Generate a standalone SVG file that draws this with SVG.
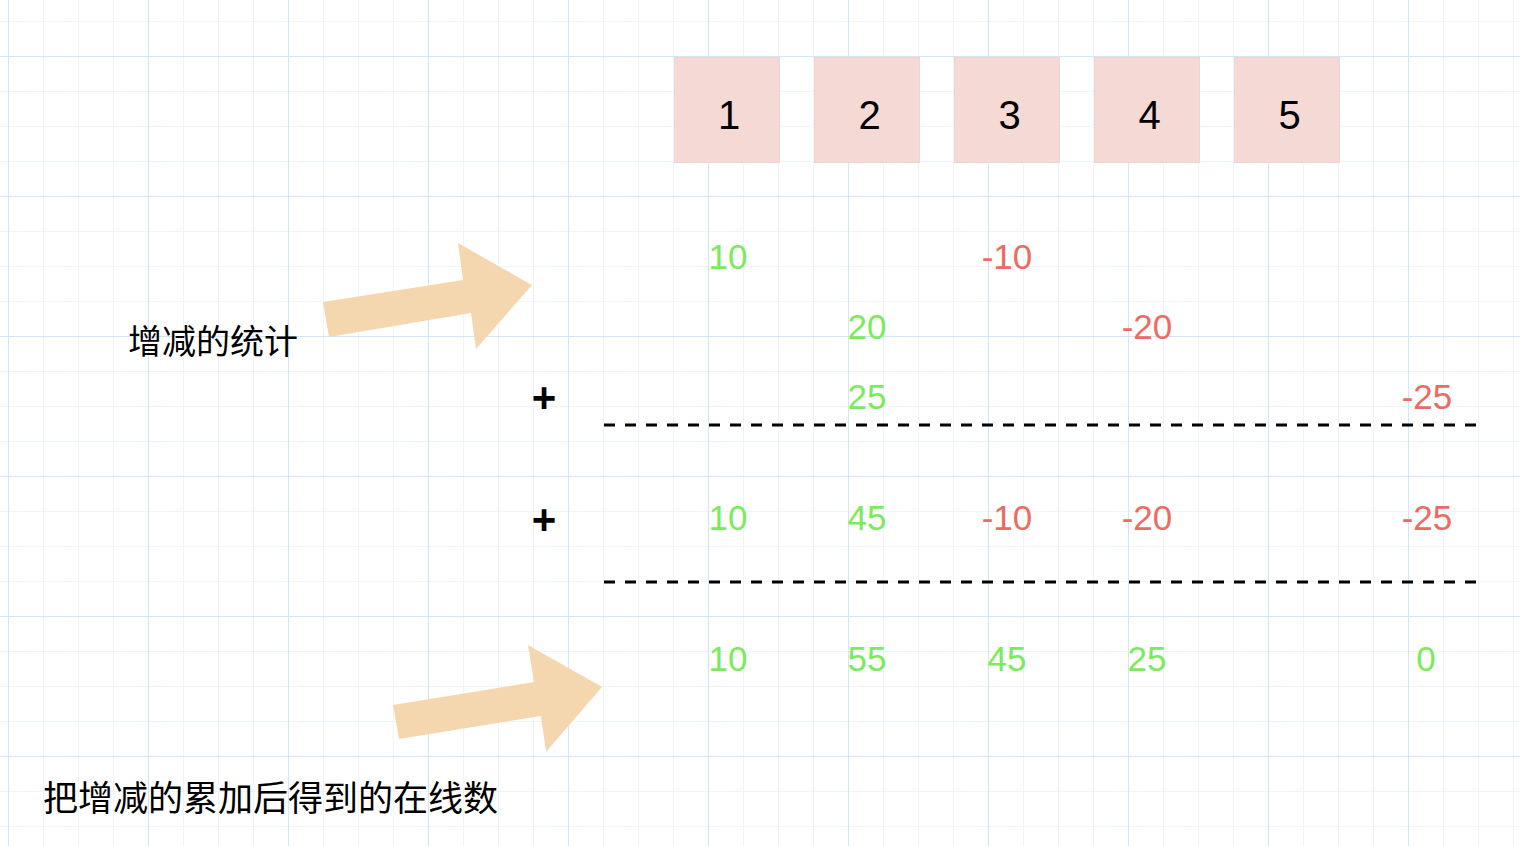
<svg xmlns="http://www.w3.org/2000/svg" width="1520" height="846" viewBox="0 0 1520 846">
<style>
.box{fill:#f5d9d5;stroke:#f3d3cf;stroke-width:1}
.num{font-family:"Liberation Sans",Arial,sans-serif;font-size:35px;text-anchor:middle}
.lbl{font-family:"Liberation Sans",Arial,sans-serif;font-size:40px;text-anchor:middle;fill:#000}
.plus{font-family:"Liberation Sans",Arial,sans-serif;font-size:42px;font-weight:bold;text-anchor:middle;fill:#000}
.g{fill:#7aeb5c}
.r{fill:#ec6b63}
.cn{font-family:"Noto Sans CJK SC","Noto Sans CJK TC",sans-serif;fill:#000}
.arrow{fill:#f5d7af}
.dash{stroke:#000;stroke-width:3;stroke-dasharray:11 10;fill:none}
</style>
<defs>
<pattern id="minor" x="8" y="21" width="35" height="35" patternUnits="userSpaceOnUse">
<path d="M0 0.5H35M0.5 0V35" stroke="#eef4fc" stroke-width="1" fill="none"/>
</pattern>
<pattern id="major" x="8" y="56" width="140" height="140" patternUnits="userSpaceOnUse">
<path d="M0 0.5H140M0.5 0V140" stroke="#d3e5f8" stroke-width="1" fill="none"/>
</pattern>
</defs>
<rect x="0" y="0" width="1520" height="846" fill="#ffffff"/>
<rect x="0" y="0" width="1520" height="846" fill="url(#minor)"/>
<rect x="0" y="0" width="1520" height="846" fill="url(#major)"/>

<g id="box1"><rect class="box" x="674.5" y="57.5" width="105" height="105"/><text class="lbl" x="729" y="129">1</text></g>
<g id="box2"><rect class="box" x="814.5" y="57.5" width="105" height="105"/><text class="lbl" x="869.5" y="129">2</text></g>
<g id="box3"><rect class="box" x="954.5" y="57.5" width="105" height="105"/><text class="lbl" x="1009.5" y="129">3</text></g>
<g id="box4"><rect class="box" x="1094.5" y="57.5" width="105" height="105"/><text class="lbl" x="1149.5" y="129">4</text></g>
<g id="box5"><rect class="box" x="1234.5" y="57.5" width="105" height="105"/><text class="lbl" x="1289.5" y="129">5</text></g>

<g id="arrow1"><polygon class="arrow" points="323,302 463,280 458,243 532,285 476,349 471,313 329,337"/></g>
<g id="arrow2"><polygon class="arrow" points="393,705 534,682 528,645 602,687 546,752 541,716 399,739"/></g>

<g id="label-stats"><text class="cn" x="128" y="354" font-size="34">增减的统计</text></g>
<g id="label-sum"><text class="cn" x="43" y="811" font-size="35">把增减的累加后得到的在线数</text></g>

<g id="connectors">
<line class="dash" x1="604" y1="425" x2="1478" y2="425"/>
<line class="dash" x1="604" y1="582" x2="1478" y2="582"/>
</g>

<g id="plus1"><text class="plus" x="544" y="412">+</text></g>
<g id="plus2"><text class="plus" x="544" y="534">+</text></g>

<g id="row1">
<text class="num g" x="728" y="269">10</text>
<text class="num r" x="1007" y="269">-10</text>
</g>
<g id="row2">
<text class="num g" x="867" y="338.5">20</text>
<text class="num r" x="1147" y="338.5">-20</text>
</g>
<g id="row3">
<text class="num g" x="867" y="409">25</text>
<text class="num r" x="1427" y="409">-25</text>
</g>
<g id="row4">
<text class="num g" x="728" y="530">10</text>
<text class="num g" x="867" y="530">45</text>
<text class="num r" x="1007" y="530">-10</text>
<text class="num r" x="1147" y="530">-20</text>
<text class="num r" x="1427" y="530">-25</text>
</g>
<g id="row5">
<text class="num g" x="728" y="671">10</text>
<text class="num g" x="867" y="671">55</text>
<text class="num g" x="1007" y="671">45</text>
<text class="num g" x="1147" y="671">25</text>
<text class="num g" x="1426" y="671">0</text>
</g>
</svg>
